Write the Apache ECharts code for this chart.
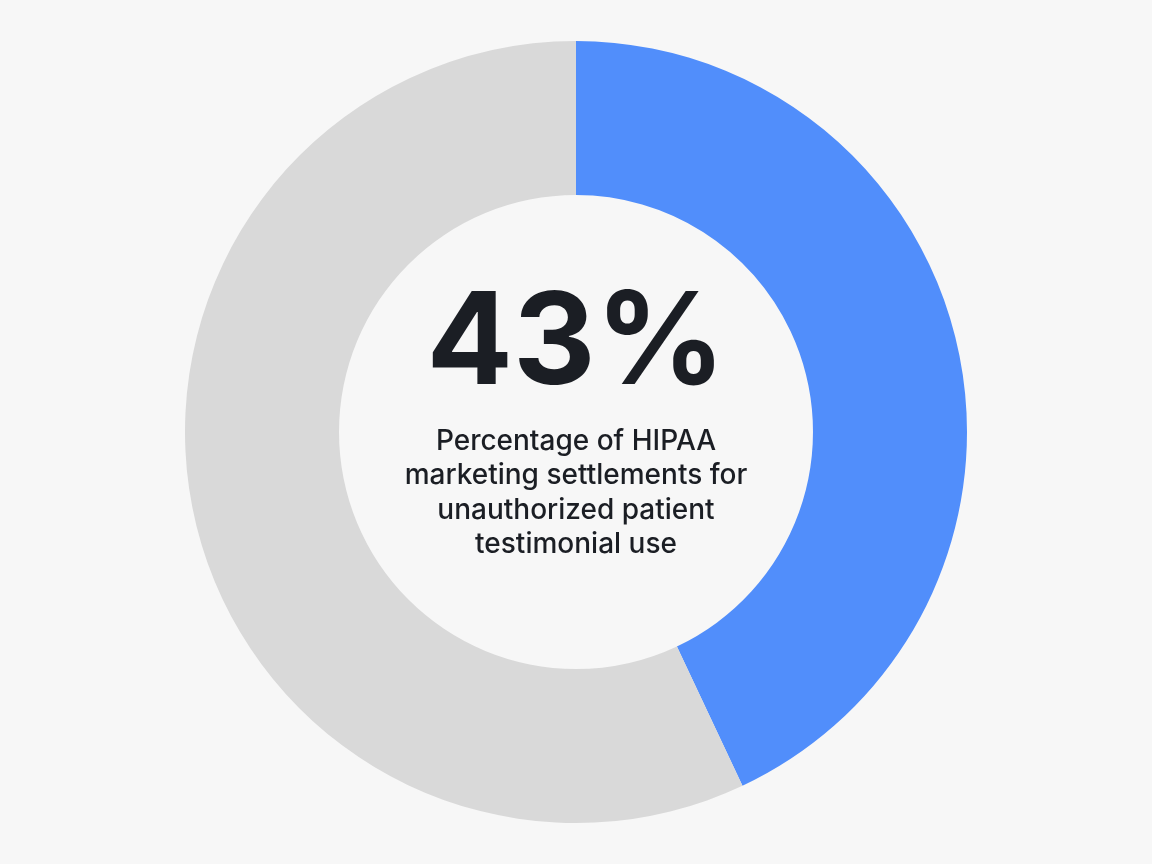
<!DOCTYPE html>
<html><head><meta charset="utf-8">
<script src="https://cdn.jsdelivr.net/npm/echarts@6/dist/echarts.min.js"></script>
<style>html,body{margin:0;padding:0;background:#f7f7f7}#c{width:1152px;height:864px}</style>
</head><body><div id="c"></div>
<script>
const categories = ["Unauthorized patient testimonial use", "Other"];
const values = [43, 57];
const centerValue = "43%";
const centerLines = ["Percentage of HIPAA", "marketing settlements for", "unauthorized patient", "testimonial use"];
const chart = echarts.init(document.getElementById('c'));
chart.setOption({
  backgroundColor: '#f7f7f7',
  animation: false,
  graphic: [
    {type:'text', left:'center', top:282, style:{text:centerValue, font:'bold 128px "Inter", "Liberation Sans", sans-serif', fill:'#1b1e24', textAlign:'center'}},
    {type:'text', left:'center', top:424, style:{text:centerLines.join('\n'), font:'500 28px "Inter", "Liberation Sans", sans-serif', fill:'#1b1e24', textAlign:'center', lineHeight:34.5}}
  ],
  series: [{
    type:'pie', center:[576,432], radius:[237,391], startAngle:90, clockwise:true,
    label:{show:false}, labelLine:{show:false}, silent:true,
    data: categories.map((n,i)=>({name:n, value:values[i], itemStyle:{color: i===0?'#518efb':'#d9d9d9'}}))
  }]
});
</script></body></html>
